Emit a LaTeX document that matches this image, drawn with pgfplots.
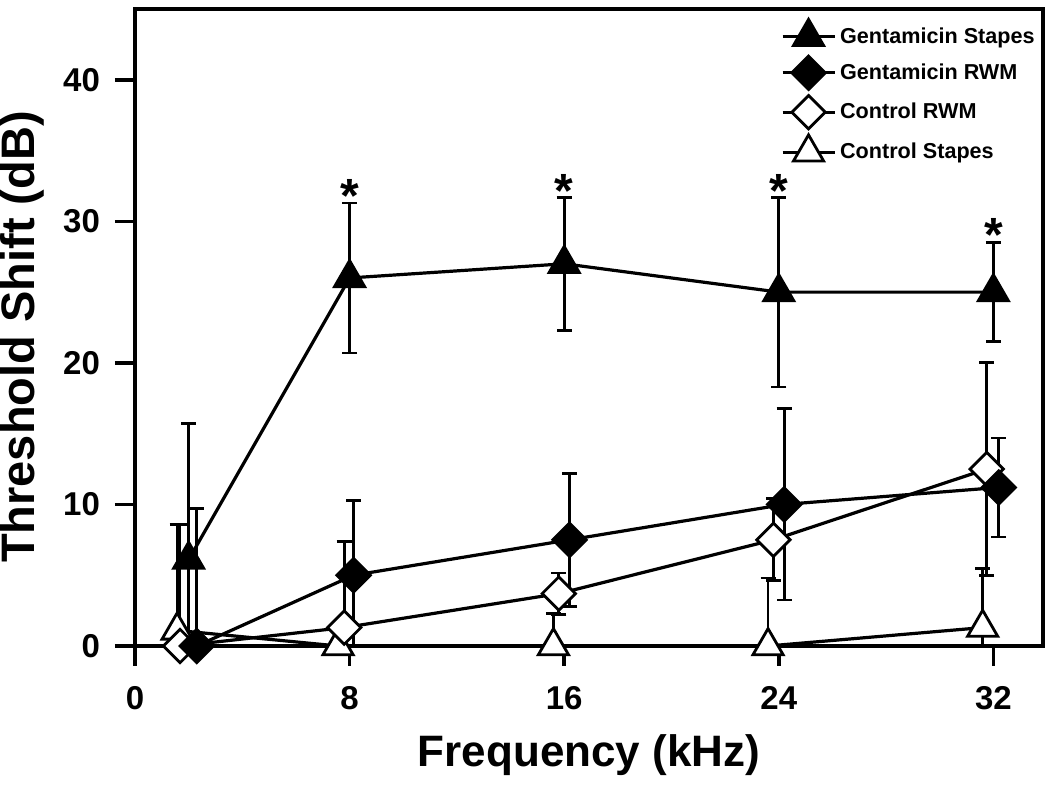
\documentclass[border=0pt]{standalone}
\usepackage{pgfplots}
\pgfplotsset{compat=1.18}
\usepackage{fontspec}
\setmainfont{Liberation Sans}
\begin{document}
\begin{tikzpicture}
\begin{axis}[
  scale only axis,
  width=454pt, height=318.5pt,
  xmin=0, xmax=33.85, ymin=0, ymax=45,
  axis line style={line width=1.8pt},
  xtick={0,8,16,24,32}, ytick={0,10,20,30,40},
  xtick pos=bottom, ytick pos=left,
  tick align=outside,
  major tick length=10pt,
  every tick/.style={line width=1.8pt, black},
  /pgf/number format/assume math mode=true,
  tick label style={font=\fontsize{16.5}{18}\selectfont\bfseries},
  xticklabel style={yshift=-6.5pt},
  yticklabel style={xshift=-4pt},
  xlabel={Frequency (kHz)}, ylabel={Threshold Shift (dB)},
  xlabel style={font=\fontsize{22}{24}\selectfont\bfseries, at={(axis description cs:0.5,-0.172)}, anchor=center},
  ylabel style={font=\fontsize{23.5}{25}\selectfont\bfseries, at={(axis description cs:-0.124,0.485)}, anchor=center},
  reverse legend,
  legend cell align=left,
  legend style={at={(1,1)}, anchor=north east, draw=none, fill=none,
    font=\fontsize{10.8}{12}\selectfont\bfseries, row sep=3pt,
    inner sep=2pt, xshift=0pt, yshift=-3pt},
  legend image code/.code={\draw[mark repeat=2, mark phase=2, #1] plot coordinates {(0pt,0pt) (13pt,0pt) (26pt,0pt)};},
  every axis plot/.append style={line width=1.6pt, black},
  error bars/y dir=both, error bars/y explicit,
  error bars/error bar style={line width=1.4pt, black},
  error bars/error mark options={rotate=90, mark size=3.75pt, line width=1.4pt, black},
]
% Control Stapes
\addplot[mark=triangle*, mark size=8.7pt, mark options={fill=white, line width=1.4pt, solid}]
  coordinates {(1.57,1.1) +- (0,7.5) (7.57,0) +- (0,1.2) (15.6,0) +- (0,2.3) (23.6,0) +- (0,4.8) (31.6,1.3) +- (0,4.2)};
\addlegendentry{Control Stapes}
% Control RWM
\addplot[mark=square*, mark size=5.9pt, mark options={rotate=45, fill=white, line width=1.4pt, solid}]
  coordinates {(1.68,0) +- (0,8.6) (7.8,1.3) +- (0,6.1) (15.8,3.7) +- (0,1.45) (23.8,7.5) +- (0,2.9) (31.75,12.5) +- (0,7.5)};
\addlegendentry{Control RWM}
% Gentamicin RWM
\addplot[mark=square*, mark size=5.9pt, mark options={rotate=45, fill=black, line width=1.4pt, solid}]
  coordinates {(2.3,0) +- (0,9.7) (8.15,5) +- (0,5.3) (16.2,7.5) +- (0,4.7) (24.2,10) +- (0,6.75) (32.2,11.2) +- (0,3.5)};
\addlegendentry{Gentamicin RWM}
% Gentamicin Stapes
\addplot[mark=triangle*, mark size=8.7pt, mark options={fill=black, line width=1.4pt, solid}]
  coordinates {(2.0,6.1) +- (0,9.6) (8.0,26) +- (0,5.3) (16.0,27) +- (0,4.7) (24.0,25) +- (0,6.7) (32.0,25) +- (0,3.5)};
\addlegendentry{Gentamicin Stapes}
% significance asterisks
\addplot[forget plot, draw=none, mark=none, error bars/y dir=none,
  nodes near coords={*},
  nodes near coords style={anchor=base, yshift=-5pt, inner sep=0pt, font=\fontsize{24}{24}\selectfont\bfseries}]
  coordinates {(8,31.3) (16,31.7) (24,31.7) (32,28.55)};
\end{axis}
\pgfresetboundingbox
\path (current axis.south west) ++(-67.5pt,-69.5pt) rectangle ([shift={(3.5pt,4.5pt)}]current axis.north east);
\end{tikzpicture}
\end{document}
